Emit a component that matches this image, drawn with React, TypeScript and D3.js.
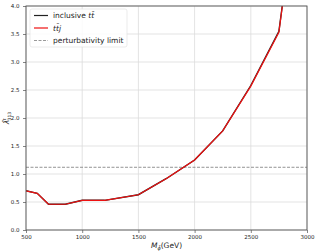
import React, { useEffect, useRef } from 'react';
import * as d3 from 'd3';

const masses = [500, 600, 700, 850, 1000, 1200, 1500, 1750, 2000, 2250, 2500, 2750, 2800];
const inclusive = [0.7, 0.655, 0.46, 0.46, 0.53, 0.53, 0.63, 0.92, 1.25, 1.77, 2.58, 3.55, 4.3];
const ttj = [0.7, 0.655, 0.46, 0.46, 0.53, 0.53, 0.63, 0.92, 1.25, 1.77, 2.57, 3.53, 4.3];
const perturbLimit = 1.12;
const xTicks = [500, 1000, 1500, 2000, 2500, 3000];
const yTicks = [0, 0.5, 1, 1.5, 2, 2.5, 3, 3.5, 4];

const App: React.FC = () => {
  const svgRef = useRef<SVGSVGElement>(null);

  useEffect(() => {
    if (!svgRef.current) return;
    const svg = d3.select(svgRef.current);
    svg.selectAll('*').remove();

    const width = 318;
    const height = 252;
    const margin = { top: 6, right: 11, bottom: 22, left: 26 };
    const font = 'DejaVu Sans';

    const x = d3.scaleLinear().domain([500, 3000]).range([margin.left, width - margin.right]);
    const y = d3.scaleLinear().domain([0, 4]).range([height - margin.bottom, margin.top]);

    svg.append('defs').append('clipPath').attr('id', 'plot-clip')
      .append('rect')
      .attr('x', margin.left).attr('y', margin.top)
      .attr('width', x(3000) - x(500)).attr('height', y(0) - y(4));

    // grid
    svg.append('g').selectAll('line').data(xTicks).enter().append('line')
      .attr('x1', (d) => x(d)).attr('x2', (d) => x(d))
      .attr('y1', y(0)).attr('y2', y(4))
      .attr('stroke', '#dcdcdc').attr('stroke-width', 0.8);
    svg.append('g').selectAll('line').data(yTicks).enter().append('line')
      .attr('x1', x(500)).attr('x2', x(3000))
      .attr('y1', (d) => y(d)).attr('y2', (d) => y(d))
      .attr('stroke', '#dcdcdc').attr('stroke-width', 0.8);

    // axes
    const xAxis = svg.append('g')
      .attr('transform', `translate(0,${y(0)})`)
      .call(d3.axisBottom(x).tickValues(xTicks).tickSize(3).tickFormat(d3.format('d')));
    const yAxis = svg.append('g')
      .attr('transform', `translate(${x(500)},0)`)
      .call(d3.axisLeft(y).tickValues(yTicks).tickSize(3).tickFormat(d3.format('.1f')));
    [xAxis, yAxis].forEach((a) => {
      a.select('.domain').remove();
      a.selectAll('text').attr('font-family', font).attr('font-size', 5.5).attr('fill', '#222');
      a.selectAll('line').attr('stroke', '#333').attr('stroke-width', 0.6);
    });
    xAxis.selectAll('text').attr('dy', '0.6em');
    yAxis.selectAll('text').attr('dx', '-0.1em');

    const line = d3.line<number>()
      .x((_, i) => x(masses[i]))
      .y((d) => y(d));

    const plot = svg.append('g').attr('clip-path', 'url(#plot-clip)');

    plot.append('line')
      .attr('x1', x(500)).attr('x2', x(3000))
      .attr('y1', y(perturbLimit)).attr('y2', y(perturbLimit))
      .attr('stroke', '#777').attr('stroke-width', 0.8).attr('stroke-dasharray', '3,1.5');

    plot.append('path').datum(inclusive)
      .attr('d', line).attr('fill', 'none')
      .attr('stroke', '#222').attr('stroke-width', 1.4);
    plot.append('path').datum(ttj)
      .attr('d', line).attr('fill', 'none')
      .attr('stroke', '#ee1111').attr('stroke-width', 1.2);

    // frame
    svg.append('rect')
      .attr('x', x(500)).attr('y', y(4))
      .attr('width', x(3000) - x(500)).attr('height', y(0) - y(4))
      .attr('fill', 'none').attr('stroke', '#555').attr('stroke-width', 0.9);

    // legend
    const lg = svg.append('g').attr('transform', `translate(${x(500) + 4},${y(4) + 3})`);
    lg.append('rect')
      .attr('width', 97).attr('height', 38).attr('rx', 2)
      .attr('fill', 'white').attr('fill-opacity', 0.85)
      .attr('stroke', '#ddd').attr('stroke-width', 0.6);
    const items = [
      { color: '#222', dash: null, label: 'inclusive' },
      { color: '#ee1111', dash: null, label: 'ttj' },
      { color: '#999', dash: '3,1.5', label: 'perturbativity limit' },
    ];
    items.forEach((it, i) => {
      const cy = 6.5 + i * 12.5;
      lg.append('line')
        .attr('x1', 4).attr('x2', 18).attr('y1', cy).attr('y2', cy)
        .attr('stroke', it.color).attr('stroke-width', 1.2)
        .attr('stroke-dasharray', it.dash);
      const t = lg.append('text')
        .attr('x', 23).attr('y', cy + 2.5)
        .attr('font-family', font).attr('font-size', 7.5).attr('fill', '#222');
      if (i === 0) {
        t.append('tspan').text('inclusive ');
        t.append('tspan').attr('font-style', 'italic').text('t');
        t.append('tspan').attr('font-style', 'italic').text('t\u0304');
      } else if (i === 1) {
        t.append('tspan').attr('font-style', 'italic').text('t');
        t.append('tspan').attr('font-style', 'italic').text('t\u0304');
        t.append('tspan').attr('font-style', 'italic').text('j');
      } else {
        t.text(it.label);
      }
    });

    // axis labels
    const xl = svg.append('text')
      .attr('x', (x(500) + x(3000)) / 2).attr('y', height - 4)
      .attr('text-anchor', 'middle')
      .attr('font-family', font).attr('font-size', 7.5).attr('fill', '#222');
    xl.append('tspan').attr('font-style', 'italic').text('M');
    xl.append('tspan').attr('font-style', 'italic').attr('font-size', 5).attr('dy', 1.5).text('\u03d5\u0302');
    xl.append('tspan').attr('dy', -1.5).text('(GeV)');

    const yl = svg.append('text')
      .attr('transform', `translate(9,${(y(0) + y(4)) / 2}) rotate(-90)`)
      .attr('text-anchor', 'middle')
      .attr('font-family', font).attr('font-size', 7.5).attr('fill', '#222');
    yl.append('tspan').attr('font-style', 'italic').text('\u03bb\u0302');
    yl.append('tspan').attr('font-style', 'italic').attr('font-size', 4.5).attr('dy', -3.5).attr('dx', -0.5).text('t');
    yl.append('tspan').attr('font-size', 4.5).attr('dy', 5.5).attr('dx', -2).text('313');
  }, []);

  return (
    <div style={{ position: 'absolute', left: 0, top: 0 }}>
      <svg ref={svgRef} width={318} height={252} style={{ display: 'block', background: 'white' }}></svg>
    </div>
  );
};

export default App;
